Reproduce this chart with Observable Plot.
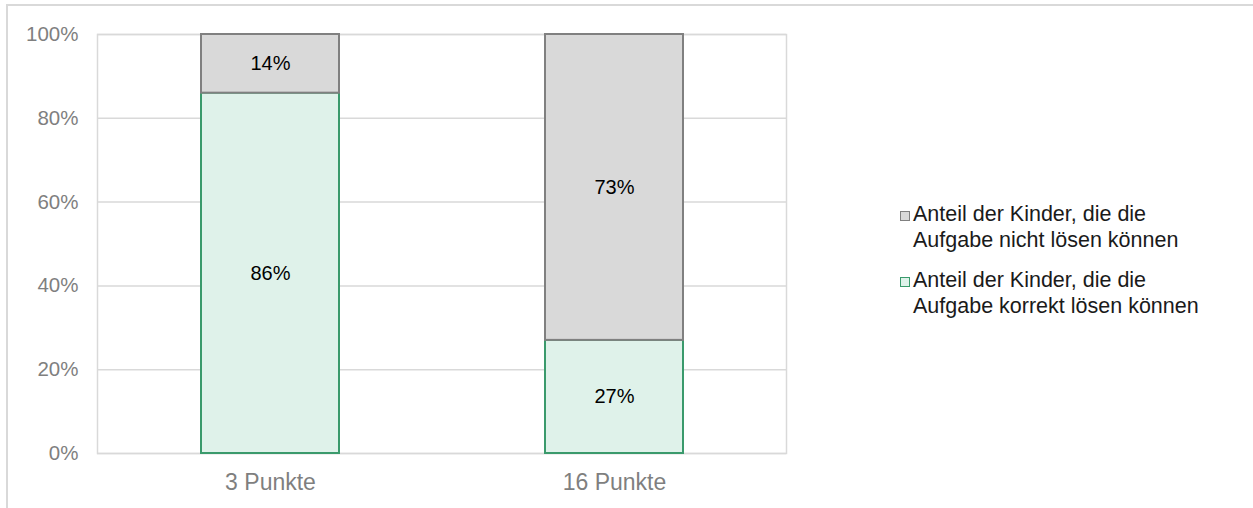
<!DOCTYPE html>
<html>
<head>
<meta charset="utf-8">
<script src="https://cdn.jsdelivr.net/npm/d3@7"></script>
<script src="https://cdn.jsdelivr.net/npm/@observablehq/plot@0.6"></script>
<style>
  html, body { margin: 0; padding: 0; background: #fff; }
  #wrap { position: relative; width: 1253px; height: 508px; overflow: hidden; font-family: "Liberation Sans", Arial, sans-serif; }
  #border { position: absolute; left: 6px; top: 4px; width: 1260px; height: 520px; border-left: 2px solid #d9d9d9; border-top: 2px solid #d9d9d9; box-sizing: border-box; }
  #legend { position: absolute; left: 900px; top: 201px; font-size: 21.5px; line-height: 26px; color: #1a1a1a; }
  .item { display: flex; align-items: flex-start; margin-bottom: 14px; }
  .sw { width: 8px; height: 8px; margin-top: 10px; margin-right: 3px; flex: none; }
  .lbl { white-space: pre-line; }
</style>
</head>
<body>
<div id="wrap">
  <div id="border"></div>
  <div id="chart"></div>
  <div id="legend"></div>
</div>
<script>
const categories = ["3 Punkte", "16 Punkte"];
const correctPct = [86, 27];
const notSolvedPct = [14, 73];
const seriesLabels = {
  notSolved: "Anteil der Kinder, die die\nAufgabe nicht lösen können",
  correct: "Anteil der Kinder, die die\nAufgabe korrekt lösen können"
};
const yTicks = [0, 20, 40, 60, 80, 100];

const colors = {
  correct: { fill: "#dff2ea", stroke: "#3a9a6c" },
  notSolved: { fill: "#d9d9d9", stroke: "#808080" }
};

// stacked table built from the arrays (correct at bottom, notSolved on top)
const correctRows = categories.map((c, i) => ({ cat: c, value: correctPct[i], y1: 0, y2: correctPct[i] }));
const notSolvedRows = categories.map((c, i) => ({ cat: c, value: notSolvedPct[i], y1: correctPct[i], y2: correctPct[i] + notSolvedPct[i] }));
const allRows = correctRows.concat(notSolvedRows);

const chart = Plot.plot({
  width: 1253,
  height: 508,
  marginLeft: 97,
  marginRight: 467,
  marginTop: 34,
  marginBottom: 55,
  style: { fontFamily: "'Liberation Sans', Arial, sans-serif", color: "#7f7f7f", background: "transparent" },
  x: { domain: categories, paddingInner: 0.6, paddingOuter: 0.3, label: null },
  y: { domain: [0, 100], label: null },
  marks: [
    Plot.ruleY(yTicks, { stroke: "#d9d9d9", strokeWidth: 1.5 }),
    Plot.frame({ stroke: "#d9d9d9", strokeWidth: 1.5 }),
    Plot.barY(correctRows, { x: "cat", y1: "y1", y2: "y2", fill: colors.correct.fill, stroke: colors.correct.stroke, strokeWidth: 2, inset: 0 }),
    Plot.barY(notSolvedRows, { x: "cat", y1: "y1", y2: "y2", fill: colors.notSolved.fill, stroke: colors.notSolved.stroke, strokeWidth: 2, inset: 0 }),
    Plot.text(allRows, { x: "cat", y: d => (d.y1 + d.y2) / 2, text: d => d.value + "%", fill: "#000", fontSize: 20 }),
    Plot.axisY({ ticks: yTicks, tickSize: 0, tickPadding: 19, tickFormat: d => d + "%", fontSize: 20.5 }),
    Plot.axisX({ tickSize: 0, tickPadding: 20, fontSize: 23 })
  ]
});
document.getElementById("chart").appendChild(chart);

const legend = document.getElementById("legend");
["notSolved", "correct"].forEach(k => {
  const item = document.createElement("div");
  item.className = "item";
  const sw = document.createElement("div");
  sw.className = "sw";
  sw.style.background = colors[k].fill;
  sw.style.border = "1.5px solid " + colors[k].stroke;
  const lbl = document.createElement("div");
  lbl.className = "lbl";
  lbl.textContent = seriesLabels[k];
  item.appendChild(sw);
  item.appendChild(lbl);
  legend.appendChild(item);
});
</script>
</body>
</html>
